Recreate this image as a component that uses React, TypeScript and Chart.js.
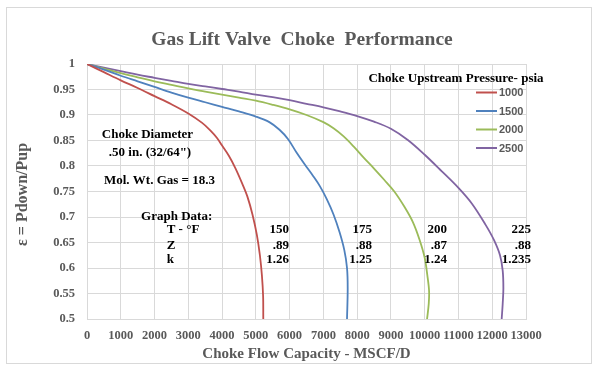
import React, { useEffect, useRef } from "react";
import { Chart, registerables } from "chart.js";

Chart.register(...registerables);

const chartTitle = "Gas Lift Valve  Choke  Performance";
const xAxisTitle = "Choke Flow Capacity - MSCF/D";
const yAxisTitle = "ε = Pdown/Pup";
const legendTitle = "Choke Upstream Pressure- psia";

const seriesLabels = ["1000", "1500", "2000", "2500"];
const seriesColors = ["#C0504D", "#4F81BD", "#9BBB59", "#8064A2"];

const flow1000 = [0, 500, 1000, 1500, 2000, 2500, 3000, 3400, 3650, 3850, 4000, 4200, 4400, 4600, 4750, 4900, 5030, 5120, 5180, 5215, 5220];
const ratio1000 = [1, 0.984, 0.968, 0.953, 0.937, 0.921, 0.903, 0.885, 0.87, 0.855, 0.84, 0.82, 0.795, 0.765, 0.74, 0.705, 0.665, 0.625, 0.585, 0.545, 0.5];

const flow1500 = [0, 500, 1000, 1500, 2000, 2500, 3000, 3500, 4000, 4500, 5000, 5400, 5700, 5950, 6200, 6450, 6700, 6900, 7100, 7300, 7480, 7620, 7700, 7720, 7700];
const ratio1500 = [1, 0.989, 0.977, 0.966, 0.955, 0.944, 0.934, 0.925, 0.916, 0.907, 0.897, 0.886, 0.871, 0.853, 0.827, 0.803, 0.78, 0.76, 0.735, 0.705, 0.67, 0.635, 0.6, 0.56, 0.5];

const flow2000 = [0, 500, 1000, 1500, 2000, 2500, 3000, 3500, 4000, 4500, 5000, 5500, 6000, 6500, 7000, 7300, 7600, 7900, 8200, 8500, 8800, 9100, 9400, 9650, 9850, 10000, 10080, 10130, 10120, 10070];
const ratio2000 = [1, 0.991, 0.982, 0.974, 0.966, 0.959, 0.952, 0.946, 0.94, 0.934, 0.928, 0.92, 0.911, 0.9, 0.886, 0.874, 0.858, 0.838, 0.816, 0.795, 0.773, 0.75, 0.72, 0.69, 0.655, 0.62, 0.585, 0.555, 0.53, 0.5];

const flow2500 = [0, 500, 1000, 1500, 2000, 2500, 3000, 3500, 4000, 4500, 5000, 5500, 6000, 6500, 7000, 7500, 8000, 8500, 9000, 9500, 10000, 10500, 11000, 11400, 11800, 12050, 12230, 12310, 12330, 12310, 12280];
const ratio2500 = [1, 0.993, 0.986, 0.979, 0.973, 0.967, 0.961, 0.956, 0.951, 0.946, 0.94, 0.935, 0.929, 0.922, 0.915, 0.907, 0.898, 0.887, 0.873, 0.851, 0.822, 0.79, 0.757, 0.726, 0.685, 0.655, 0.625, 0.595, 0.56, 0.53, 0.5];

const seriesFlows = [flow1000, flow1500, flow2000, flow2500];
const seriesRatios = [ratio1000, ratio1500, ratio2000, ratio2500];

// Annotation text (anchored in data units)
const noteTexts = ["Choke Diameter", ".50 in. (32/64\")", "Mol. Wt. Gas = 18.3", "Graph Data:", "T - °F", "Z", "k"];
const noteX = [1790, 1866, 2147, 2656, 2360, 2360, 2360];
const noteY = [0.861, 0.8255, 0.7706, 0.7006, 0.6745, 0.6437, 0.6157];
const noteAlign = ["center", "center", "center", "center", "left", "left", "left"];

const tempValues = ["150", "175", "200", "225"];
const zValues = [".89", ".88", ".87", ".88"];
const kValues = ["1.26", "1.25", "1.24", "1.235"];
const columnX = [5982, 8440, 10660, 13148];
const rowY = [0.6745, 0.6437, 0.6157];

const xMin = 0, xMax = 13000, xStep = 1000;
const yMin = 0.5, yMax = 1, yStep = 0.05;

const SERIF = "'Liberation Serif', 'Times New Roman', serif";
const GRAY = "#595959";

const textPlugin = {
  id: "textPlugin",
  afterDraw(chart: any) {
    const ctx = chart.ctx;
    const ca = chart.chartArea;
    const xs = chart.scales.x;
    const ys = chart.scales.y;
    ctx.save();
    ctx.textBaseline = "middle";

    // Title
    ctx.fillStyle = GRAY;
    ctx.font = `bold 19.5px ${SERIF}`;
    ctx.textAlign = "center";
    ctx.fillText(chartTitle, 302, 40);

    // X axis title
    ctx.font = `bold 15px ${SERIF}`;
    ctx.fillText(xAxisTitle, (ca.left + ca.right) / 2, 354);

    // Y axis title
    ctx.save();
    ctx.translate(23, (ca.top + ca.bottom) / 2 + 3);
    ctx.rotate(-Math.PI / 2);
    ctx.font = `bold 16px ${SERIF}`;
    ctx.fillText(yAxisTitle, 0, 0);
    ctx.restore();

    // Annotations
    ctx.fillStyle = "#000";
    ctx.font = `bold 13px ${SERIF}`;
    noteTexts.forEach((t, i) => {
      ctx.textAlign = noteAlign[i];
      ctx.fillText(t, xs.getPixelForValue(noteX[i]), ys.getPixelForValue(noteY[i]));
    });
    ctx.textAlign = "right";
    const rows = [tempValues, zValues, kValues];
    rows.forEach((row, r) => {
      row.forEach((t, c) => {
        ctx.fillText(t, xs.getPixelForValue(columnX[c]), ys.getPixelForValue(rowY[r]));
      });
    });

    // Legend
    ctx.textAlign = "center";
    ctx.font = `bold 13px ${SERIF}`;
    ctx.fillText(legendTitle, ca.right - 70, ca.top + 15);
    ctx.font = "bold 11px 'Liberation Sans', Arial, sans-serif";
    ctx.textAlign = "left";
    seriesLabels.forEach((lab, i) => {
      const y = ca.top + 28.5 + i * 18.5;
      const x0 = ca.right - 50;
      ctx.strokeStyle = seriesColors[i];
      ctx.lineWidth = 2;
      ctx.beginPath();
      ctx.moveTo(x0, y);
      ctx.lineTo(x0 + 21, y);
      ctx.stroke();
      ctx.fillStyle = GRAY;
      ctx.fillText(lab, x0 + 23, y + 0.5);
    });
    ctx.restore();
  },
};

export default function App() {
  const ref = useRef<HTMLCanvasElement>(null);
  useEffect(() => {
    const canvas = ref.current;
    if (!canvas) return;
    const datasets = seriesLabels.map((lab, i) => ({
      label: lab,
      data: seriesFlows[i].map((x, j) => ({ x, y: seriesRatios[i][j] })),
      borderColor: seriesColors[i],
      backgroundColor: seriesColors[i],
      borderWidth: 1.8,
      pointRadius: 0,
      tension: 0.35,
      fill: false,
    }));
    const chart = new Chart(canvas, {
      type: "line",
      data: { datasets },
      plugins: [textPlugin],
      options: {
        animation: false,
        responsive: false,
        devicePixelRatio: 1,
        layout: { padding: { left: 0, right: 74, top: 64, bottom: 0 } },
        plugins: { legend: { display: false }, title: { display: false }, tooltip: { enabled: false } },
        scales: {
          x: {
            type: "linear",
            min: xMin,
            max: xMax,
            afterFit: (s: any) => { s.height = 52; },
            ticks: {
              stepSize: xStep,
              autoSkip: false,
              maxRotation: 0,
              padding: 9,
              color: GRAY,
              font: { family: SERIF, weight: "bold", size: 12.5 },
              callback: (v: any) => String(v),
            },
            grid: { color: "#d9d9d9", drawTicks: false, lineWidth: 1 },
            border: { color: "#d9d9d9" },
          },
          y: {
            type: "linear",
            min: yMin,
            max: yMax,
            afterFit: (s: any) => { s.width = 87; },
            ticks: {
              stepSize: yStep,
              padding: 12,
              color: GRAY,
              font: { family: SERIF, weight: "bold", size: 12.5 },
              callback: (v: any) => String(+Number(v).toFixed(2)),
            },
            grid: { color: "#d9d9d9", drawTicks: false, lineWidth: 1 },
            border: { color: "#d9d9d9" },
          },
        },
      },
    });
    return () => chart.destroy();
  }, []);
  return (
    <div style={{ position: "fixed", left: 0, top: 0, width: 600, height: 371, background: "#fff" }}>
      <div style={{ position: "absolute", left: 6, top: 7, width: 586, height: 357, border: "1px solid #d9d9d9", boxSizing: "border-box" }} />
      <canvas ref={ref} width={600} height={371} style={{ position: "absolute", left: 0, top: 0, width: 600, height: 371 }} />
    </div>
  );
}
